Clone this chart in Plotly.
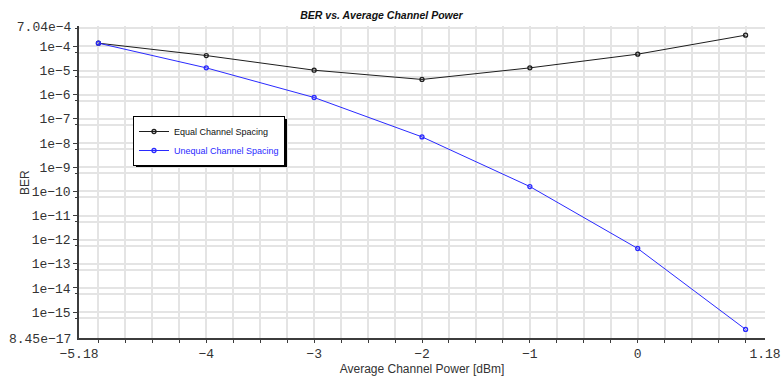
import numpy as np
import plotly.graph_objects as go

# Average channel power sweep [dBm]
power_dbm = [-5, -4, -3, -2, -1, 0, 1]

# Bit error rate for the two channel allocation schemes
ber_equal = [1.37e-4, 4.2e-5, 1.04e-5, 4.3e-6, 1.3e-5, 4.8e-5, 2.94e-4]
ber_unequal = [1.37e-4, 1.3e-5, 7.7e-7, 1.8e-8, 1.58e-10, 4.3e-13, 1.92e-16]

series_names = ["Equal Channel Spacing", "Unequal Channel Spacing"]

# Axis extents shown as end labels
x_min, x_max = -5.18, 1.18
y_min, y_max = 8.45e-17, 7.04e-4

# Decade tick labels on the BER axis
y_decades = list(range(-4, -16, -1))
x_labeled = [-4, -3, -2, -1, 0]

MONO = "Liberation Mono, Courier New, monospace"
SANS = "Liberation Sans, Arial, sans-serif"
GRID = "#e4e4e4"
AXIS = "#3c3c3c"
BLUE = "#2a2aff"
BLACK = "#1e1e1e"

W, H = 781, 379
ML, MR, MT, MB = 79, 16, 26, 41
PW, PH = W - ML - MR, H - MT - MB


def px_x(p):
    return (p - ML) / PW


def px_y(p):
    return (H - MB - p) / PH


fig = go.Figure()

fig.add_trace(go.Scatter(
    x=power_dbm, y=ber_equal, name=series_names[0], mode="lines+markers",
    line=dict(color=BLACK, width=1),
    marker=dict(symbol="circle-open", size=4, color=BLACK, line=dict(width=1.3)),
))
fig.add_trace(go.Scatter(
    x=power_dbm, y=ber_unequal,
    name=f"<span style='color:{BLUE}'>{series_names[1]}</span>",
    mode="lines+markers",
    line=dict(color=BLUE, width=1),
    marker=dict(symbol="circle-open", size=4, color=BLUE, line=dict(width=1.3)),
))
# empty trace so the overlay axes carrying the end labels are drawn
fig.add_trace(go.Scatter(x=[], y=[], xaxis="x2", yaxis="y2", showlegend=False))

# x ticks every 0.25 dBm, labels only on the interior integers
x_ticks = [v / 4 for v in range(-20, 5)]
x_text = [f"\u2212{abs(int(v))}" if v in x_labeled and v < 0 else ("0" if v == 0 else "") for v in x_ticks]

y_major = [10.0 ** k for k in y_decades]
y_text = [f"1e\u2212{abs(k)}" for k in y_decades]
y_minor = [10.0 ** (k - 0.25) for k in range(-3, -16, -1)]

yr = [np.log10(y_min), np.log10(y_max)]

# drop shadow behind the legend box
fig.add_shape(type="rect", xref="paper", yref="paper",
              x0=px_x(136), x1=px_x(287), y0=px_y(167), y1=px_y(119),
              fillcolor="black", line=dict(width=0), layer="above")

# y axis title placed beside the tick labels
fig.add_annotation(text="BER", xref="paper", yref="paper", x=px_x(25), y=0.5,
                   xanchor="center", yanchor="middle", textangle=-90, showarrow=False,
                   font=dict(family=SANS, size=12, color="#333"))

fig.update_layout(
    width=W, height=H,
    margin=dict(l=ML, r=MR, t=MT, b=MB),
    paper_bgcolor="white", plot_bgcolor="white",
    title=dict(text="<b><i>BER vs. Average Channel Power</i></b>",
               x=381.5 / W, xref="container", xanchor="center",
               y=1 - 15 / H, yref="container", yanchor="middle", automargin=False,
               font=dict(family=SANS, size=10.5, color="#111")),
    xaxis=dict(
        range=[x_min, x_max], tickmode="array", tickvals=x_ticks, ticktext=x_text,
        automargin=False,
        showgrid=True, gridcolor=GRID, gridwidth=1.5, zeroline=False,
        showline=True, linecolor=AXIS, linewidth=1.5,
        ticks="outside", ticklen=3, tickcolor=AXIS, tickwidth=1,
        tickfont=dict(family=MONO, size=13, color="#333"),
        title=dict(text="Average Channel Power [dBm]", standoff=1,
                   font=dict(family=SANS, size=12, color="#333")),
    ),
    yaxis=dict(
        type="log", range=yr, tickmode="array", tickvals=y_major, ticktext=y_text,
        automargin=False,
        showgrid=True, gridcolor=GRID, gridwidth=1.5, zeroline=False,
        showline=True, linecolor=AXIS, linewidth=1.5,
        ticks="outside", ticklen=4, tickcolor=AXIS, tickwidth=1,
        tickfont=dict(family=MONO, size=13, color="#333"),
        minor=dict(tickmode="array", tickvals=y_minor, ticks="outside", ticklen=2,
                   tickcolor=AXIS, showgrid=True, gridcolor=GRID, gridwidth=1.5),
    ),
    xaxis2=dict(
        overlaying="x", anchor="y", side="bottom", range=[x_min, x_max], automargin=False,
        tickmode="array", tickvals=[x_min, x_max], ticktext=["\u22125.18", "1.18"],
        showgrid=False, zeroline=False, showline=False, ticks="outside", ticklen=3,
        tickcolor="rgba(0,0,0,0)",
        tickfont=dict(family=MONO, size=13, color="#333"),
    ),
    yaxis2=dict(
        overlaying="y", anchor="x", side="left", type="log", range=yr, automargin=False,
        tickmode="array", tickvals=[y_min, y_max], ticktext=["8.45e\u221217", "7.04e\u22124"],
        showgrid=False, zeroline=False, showline=False, ticks="outside", ticklen=4,
        tickcolor="rgba(0,0,0,0)",
        tickfont=dict(family=MONO, size=13, color="#333"),
    ),
    legend=dict(
        x=px_x(133), y=px_y(116), xanchor="left", yanchor="top",
        bgcolor="white", bordercolor="#000", borderwidth=1,
        font=dict(family=SANS, size=9, color="#111"),
        tracegroupgap=0, itemwidth=30,
    ),
    showlegend=True,
)

fig.write_html("out.html")
